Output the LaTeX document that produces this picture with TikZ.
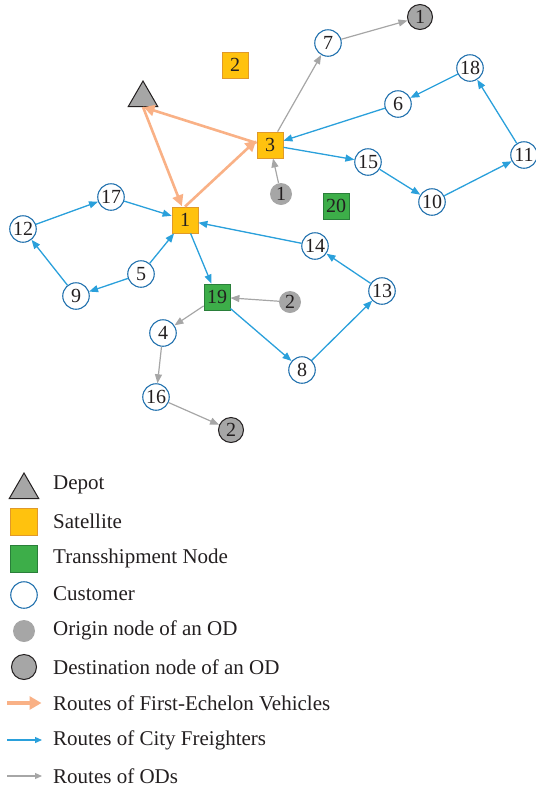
\documentclass[tikz,border=0pt]{standalone}
\usepackage{fontspec}
\setmainfont{Liberation Serif}
\usetikzlibrary{arrows.meta,shapes.geometric}
\definecolor{satfill}{HTML}{FFC20E}
\definecolor{satdraw}{HTML}{E0992A}
\definecolor{trfill}{HTML}{3DAE49}
\definecolor{trdraw}{HTML}{2A7F3A}
\definecolor{cusdraw}{HTML}{2473AF}
\definecolor{cfblue}{HTML}{2AA0DB}
\definecolor{feorange}{HTML}{F9B186}
\definecolor{odgray}{HTML}{A6A6A6}
\definecolor{nodegray}{HTML}{A6A6A6}
\definecolor{ink}{HTML}{231F20}
\begin{document}
\begin{tikzpicture}[x=1pt,y=-1pt,
 lab/.style={font=\fontsize{20}{22}\selectfont, text=ink},
 sat/.style={lab, draw=satdraw, fill=satfill, minimum size=26pt, inner sep=0pt, line width=0.8pt},
 trans/.style={lab, draw=trdraw, fill=trfill, minimum size=26pt, inner sep=0pt, line width=0.8pt},
 cust/.style={lab, circle, draw=cusdraw, fill=white, minimum size=26.5pt, inner sep=0pt, line width=1.1pt},
 orig/.style={lab, circle, fill=nodegray, minimum size=22pt, inner sep=0pt},
 dest/.style={lab, circle, draw=ink, fill=nodegray, minimum size=25pt, inner sep=0pt, line width=1pt},
 depot/.style={regular polygon, regular polygon sides=3, draw=ink, fill=nodegray, minimum size=34pt, inner sep=0pt, line width=1pt},
 fe/.style={draw=feorange, line width=2.6pt, -{Triangle[length=11pt,width=11pt]}, shorten >=0.5pt},
 cf/.style={draw=cfblue, line width=1.3pt, -{Triangle[length=9pt,width=7pt]}},
 od/.style={draw=odgray, line width=1.2pt, -{Triangle[length=9pt,width=7pt]}},
 legtext/.style={anchor=west, font=\fontsize{21}{24}\selectfont, text=ink, inner sep=0pt}
]
\useasboundingbox (0,0) rectangle (536,788);

% nodes
\node[depot] (D) at (143,98) {};
\node[sat] (S2) at (235,65) {2};
\node[sat] (S3) at (270,145) {3};
\node[sat] (S1) at (185,220) {1};
\node[trans] (T19) at (217,297) {19};
\node[trans] (T20) at (336,206) {20};

\node[cust] (c7) at (328,43) {7};
\node[cust] (c6) at (398,104) {6};
\node[cust] (c15) at (368,162) {15};
\node[cust] (c10) at (432,202) {10};
\node[cust] (c18) at (470,68) {18};
\node[cust] (c11) at (524,155) {11};
\node[cust] (c17) at (111,197) {17};
\node[cust] (c12) at (23,229) {12};
\node[cust] (c14) at (315,246) {14};
\node[cust] (c5) at (141,274) {5};
\node[cust] (c9) at (76,296) {9};
\node[cust] (c13) at (382,291) {13};
\node[cust] (c4) at (163,333) {4};
\node[cust] (c8) at (302,370) {8};
\node[cust] (c16) at (156,397) {16};

\node[orig] (o1) at (281,194) {1};
\node[orig] (o2) at (290,302) {2};
\node[dest] (d1) at (420,17) {1};
\node[dest] (d2) at (231,430) {2};

% first-echelon routes
\draw[fe] (D.south) -- ([xshift=-3pt]S1.north);
\draw[fe] (S1.north) -- ([yshift=5pt]S3.west);
\draw[fe] ([yshift=2pt]S3.west) -- (D.south);

% city freighter routes
\draw[cf] (S3) -- (c15);
\draw[cf] (c15) -- (c10);
\draw[cf] (c10) -- (c11);
\draw[cf] (c11) -- (c18);
\draw[cf] (c18) -- (c6);
\draw[cf] (c6) -- (S3);
\draw[cf] (S1) -- (T19);
\draw[cf] (T19) -- (c8);
\draw[cf] (c8) -- (c13);
\draw[cf] (c13) -- (c14);
\draw[cf] (c14) -- (S1);
\draw[cf] (c5) -- (S1);
\draw[cf] (c5) -- (c9);
\draw[cf] (c9) -- (c12);
\draw[cf] (c12) -- (c17);
\draw[cf] (c17) -- (S1);

% OD routes
\draw[od] (S3) -- (c7);
\draw[od] (c7) -- (d1);
\draw[od] (o1) -- (S3);
\draw[od] (o2) -- (T19);
\draw[od] (T19) -- (c4);
\draw[od] (c4) -- (c16);
\draw[od] (c16) -- (d2);

% legend
\node[depot] (LD) at (24,490) {};
\node[legtext] (LDt) at (53,485) {Depot};
\node[sat, minimum size=27pt] (LS) at (24,522) {};
\node[legtext] (LSt) at (53,521) {Satellite};
\node[trans, minimum size=27pt] (LT) at (24,559) {};
\node[legtext] (LTt) at (53,558) {Transshipment Node};
\node[cust] (LC) at (24,595) {};
\node[legtext] (LCt) at (53,594) {Customer};
\node[orig] (LO) at (24,631) {};
\node[legtext] (LOt) at (53,630) {Origin node of an OD};
\node[dest] (LDe) at (24,667) {};
\node[legtext] (LDet) at (53,667) {Destination node of an OD};
\coordinate (fa) at (7,703);
\coordinate (fb) at (42,703);
\draw[fe, line width=3.2pt, -{Triangle[length=12pt,width=13pt]}] (fa) -- (fb);
\node[legtext] (LFt) at (53,703) {Routes of First-Echelon Vehicles};
\coordinate (ca) at (7,740);
\coordinate (cb) at (42,740);
\draw[cf, -{Triangle[length=7pt,width=6pt]}] (ca) -- (cb);
\node[legtext] (LCFt) at (53,740) {Routes of City Freighters};
\coordinate (oa) at (7,776);
\coordinate (ob) at (42,776);
\draw[od, -{Triangle[length=7pt,width=6pt]}] (oa) -- (ob);
\node[legtext] (LODt) at (53,776) {Routes of ODs};
\end{tikzpicture}
\end{document}
